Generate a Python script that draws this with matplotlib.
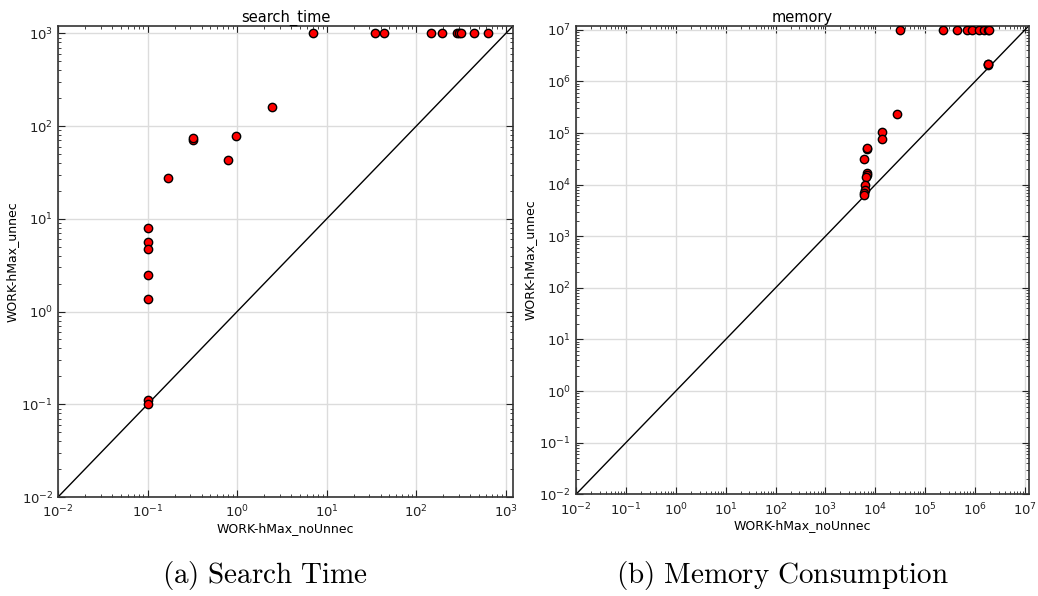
import matplotlib
matplotlib.use("Agg")
import matplotlib.pyplot as plt
import numpy as np

# search_time: WORK-hMax_noUnnec (x) vs WORK-hMax_unnec (y)
time_x = [7.1, 34.8, 43.1, 145, 195, 287, 300, 312, 443, 636,
          2.44, 0.98, 0.80, 0.32, 0.32, 0.17,
          0.1, 0.1, 0.1, 0.1, 0.1, 0.1, 0.1]
time_y = [1000, 1000, 1000, 1000, 1000, 1000, 1000, 1000, 1000, 1000,
          161, 78, 43.5, 71, 74, 27.7,
          7.9, 5.6, 4.7, 2.46, 1.38, 0.112, 0.1]

# memory
mem_x = [30500, 222000, 429000, 702000, 855000, 1.2e6, 1.53e6, 1.79e6, 1.87e6,
         1.80e6, 1.82e6, 1.84e6,
         26600, 13800, 13800, 6890, 6950, 5900,
         6680, 6650, 6600, 6170, 6100, 6050, 6000]
mem_y = [1e7, 1e7, 1e7, 1e7, 1e7, 1e7, 1e7, 1e7, 1e7,
         2.10e6, 2.13e6, 2.16e6,
         231000, 106000, 75700, 48900, 50500, 31300,
         17000, 15500, 13800, 9960, 7800, 6740, 6250]

plt.rcParams['mathtext.fontset'] = 'dejavusans'

fig = plt.figure(figsize=(10.38, 5.96), dpi=100)
ax1 = fig.add_axes([0.0559, 0.1661, 0.4383, 0.7903])
ax2 = fig.add_axes([0.5549, 0.1706, 0.4364, 0.7863])


def setup(ax, xs, ys, lim, title):
    ax.plot([0.01, lim], [0.01, lim], color='black', lw=1, zorder=2)
    ax.scatter(xs, ys, s=36, c='red', edgecolors='black', linewidths=1, zorder=3)
    ax.set_xscale('log')
    ax.set_yscale('log')
    ax.set_xlim(0.01, lim)
    ax.set_ylim(0.01, lim)
    ax.grid(True, which='major', color='#dcdcdc', lw=1, zorder=0)
    ax.set_axisbelow(True)
    ax.tick_params(which='both', direction='in', top=True, right=True,
                   labelsize=9.5, colors='#222222')
    ax.tick_params(axis='x', which='major', pad=5)
    ax.tick_params(which='major', length=5)
    ax.tick_params(which='minor', length=2.5)
    for sp in ax.spines.values():
        sp.set_color('#333333')
        sp.set_linewidth(1.2)
    ax.set_title(title, fontsize=10.5, pad=3)
    ax.set_xlabel('WORK-hMax_noUnnec', fontsize=9, labelpad=1)
    ax.set_ylabel('WORK-hMax_unnec', fontsize=9, labelpad=2)


setup(ax1, time_x, time_y, 1200, 'search_time')
setup(ax2, mem_x, mem_y, 1.2e7, 'memory')
ax1.set_yticks([10.0 ** k for k in range(-2, 4)])
ax2.set_xticks([10.0 ** k for k in range(-2, 8)])
ax2.set_yticks([10.0 ** k for k in range(-2, 8)])

fig.text(0.255, 0.035, r'$\mathrm{(a)\ Search\ Time}$', fontsize=21,
         ha='center', va='center', math_fontfamily='cm')
fig.text(0.754, 0.035, r'$\mathrm{(b)\ Memory\ Consumption}$', fontsize=21,
         ha='center', va='center', math_fontfamily='cm')

fig.savefig('out.png', dpi=100)
